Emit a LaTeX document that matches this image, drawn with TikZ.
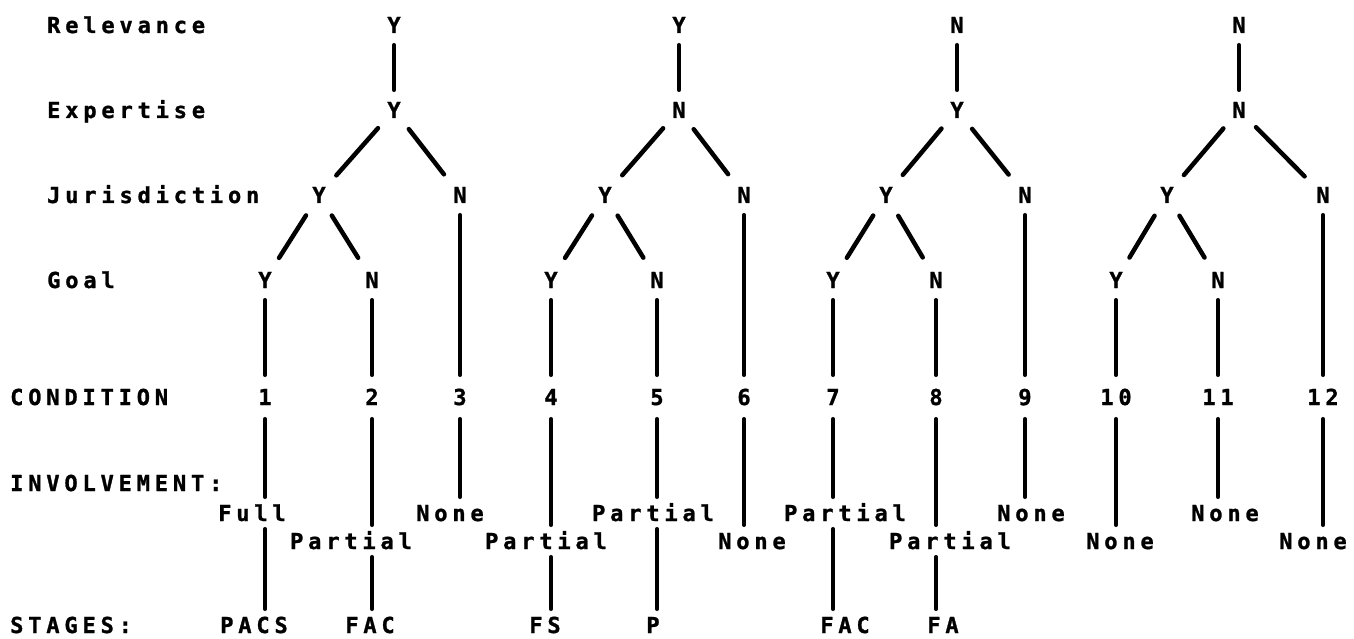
\documentclass[tikz,border=0pt]{standalone}
\usepackage{fontspec}
\newfontfamily\dotfont{DejaVu Sans Mono}[LetterSpace=22,FakeBold=1.2]
\begin{document}
\begin{tikzpicture}[x=1pt,y=-1pt,
  font=\dotfont\bfseries\fontsize{22}{22}\selectfont,
  lbl/.style={anchor=west,inner sep=0pt,text height=16pt,text depth=0pt},
  tn/.style={circle,inner sep=0pt,minimum size=40pt,text height=16pt,text depth=0pt},
  cn/.style={circle,inner sep=0pt,minimum size=44pt,text height=16pt,text depth=0pt},
  inv/.style={inner xsep=0pt,inner ysep=8pt,text height=16pt,text depth=0pt},
  link/.style={line width=4.5pt,line cap=round},
  dlink/.style={link,shorten <=4pt,shorten >=6pt}]
\useasboundingbox (0,0) rectangle (1354,639);

% row headings
\node[lbl] (hRel)  at (47,25)  {Relevance};
\node[lbl] (hExp)  at (47,110) {Expertise};
\node[lbl] (hJur)  at (47,195) {Jurisdiction};
\node[lbl] (hGoal) at (47,280) {Goal};
\node[lbl] (hCond) at (10,397) {CONDITION};
\node[lbl] (hInv)  at (10,483) {INVOLVEMENT:};
\node[lbl] (hStg)  at (10,625) {STAGES:};

% tree 1
\node[tn] (r1)  at (394,25)  {Y};
\node[tn] (e1)  at (394,110) {Y};
\node[tn] (jy1) at (319,195) {Y};
\node[tn] (jn1) at (460,195) {N};
\node[tn] (gy1) at (265,280) {Y};
\node[tn] (gn1) at (372,280) {N};
% tree 2
\node[tn] (r2)  at (679,25)  {Y};
\node[tn] (e2)  at (679,110) {N};
\node[tn] (jy2) at (605,195) {Y};
\node[tn] (jn2) at (744,195) {N};
\node[tn] (gy2) at (551,280) {Y};
\node[tn] (gn2) at (657,280) {N};
% tree 3
\node[tn] (r3)  at (957,25)  {N};
\node[tn] (e3)  at (957,110) {Y};
\node[tn] (jy3) at (886,195) {Y};
\node[tn] (jn3) at (1025,195) {N};
\node[tn] (gy3) at (833,280) {Y};
\node[tn] (gn3) at (936,280) {N};
% tree 4
\node[tn] (r4)  at (1239,25)  {N};
\node[tn] (e4)  at (1239,110) {N};
\node[tn] (jy4) at (1167,195) {Y};
\node[tn] (jn4) at (1323,195) {N};
\node[tn] (gy4) at (1116,280) {Y};
\node[tn] (gn4) at (1218,280) {N};

% condition numbers
\node[cn] (k1)  at (265,397)  {1};
\node[cn] (k2)  at (372,397)  {2};
\node[cn] (k3)  at (460,397)  {3};
\node[cn] (k4)  at (551,397)  {4};
\node[cn] (k5)  at (657,397)  {5};
\node[cn] (k6)  at (744,397)  {6};
\node[cn] (k7)  at (833,397)  {7};
\node[cn] (k8)  at (936,397)  {8};
\node[cn] (k9)  at (1025,397) {9};
\node[cn] (k10) at (1116,397) {10};
\node[cn] (k11) at (1218,397) {11};
\node[cn] (k12) at (1323,397) {12};

% involvement
\node[inv] (v1)  at (252,513)  {Full};
\node[inv] (v2)  at (351,541)  {Partial};
\node[inv] (v3)  at (450,513)  {None};
\node[inv] (v4)  at (546,541)  {Partial};
\node[inv] (v5)  at (653,513)  {Partial};
\node[inv] (v6)  at (752,541)  {None};
\node[inv] (v7)  at (845,513)  {Partial};
\node[inv] (v8)  at (950,541)  {Partial};
\node[inv] (v9)  at (1031,513) {None};
\node[inv] (v10) at (1120,541) {None};
\node[inv] (v11) at (1225,513) {None};
\node[inv] (v12) at (1313,541) {None};

% stages
\node[inv] (s1) at (254,625) {PACS};
\node[inv] (s2) at (370,625) {FAC};
\node[inv] (s4) at (545,625) {FS};
\node[inv] (s5) at (653,625) {P};
\node[inv] (s7) at (845,625) {FAC};
\node[inv] (s8) at (943,625) {FA};

% branches of the four trees
\foreach \t in {1,2,3,4}{
  \draw[link] (r\t) -- (e\t);
  \draw[dlink] (e\t) -- (jy\t);
  \draw[dlink] (e\t) -- (jn\t);
  \draw[dlink] (jy\t) -- (gy\t);
  \draw[dlink] (jy\t) -- (gn\t);
}
% drops to the conditions
\foreach \t/\a/\b/\c in {1/1/2/3,2/4/5/6,3/7/8/9,4/10/11/12}{
  \draw[link] (gy\t) -- (k\a);
  \draw[link] (gn\t) -- (k\b);
  \draw[link] (jn\t) -- (k\c);
}
% conditions to involvement
\foreach \i in {1,...,12}{
  \draw[link] (k\i) -- (k\i |- v\i.north);
}
% involvement to stages
\foreach \i in {1,2,4,5,7,8}{
  \draw[link] (k\i |- v\i.south) -- (k\i |- s\i.north);
}
\end{tikzpicture}
\end{document}
